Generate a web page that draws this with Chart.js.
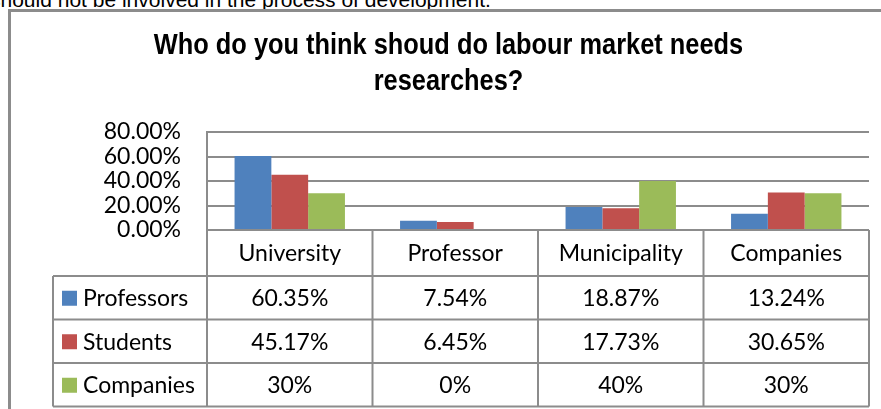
<!DOCTYPE html>
<html>
<head>
<meta charset="utf-8">
<script src="https://cdn.jsdelivr.net/npm/chart.js@4.4.1/dist/chart.umd.min.js"></script>
<style>
  body { margin: 0; background: #fff; overflow: hidden; }
  #wrap { position: relative; width: 881px; height: 409px; overflow: hidden; }
  #topline { position: absolute; left: -10px; top: -11px; font: 21px "Liberation Sans", Arial, sans-serif; line-height: 21px; color: #000; white-space: nowrap; }
  #frame { position: absolute; left: 8px; top: 9px; width: 1000px; height: 600px; border: 3px solid #8c8c8c; }
  #chart { position: absolute; left: 0; top: 0; }
</style>
</head>
<body>
<div id="wrap">
  <div id="topline">should not be involved in the process of development.</div>
  <div id="frame"></div>
  <canvas id="chart" width="881" height="409"></canvas>
</div>
<script>
const categories = ["University", "Professor", "Municipality", "Companies"];
const seriesNames = ["Professors", "Students", "Companies"];
const professors = [60.35, 7.54, 18.87, 13.24];
const students = [45.17, 6.45, 17.73, 30.65];
const companies = [30, 0, 40, 30];
const yTicks = [0, 20, 40, 60, 80];
const titleLines = ["Who do you think shoud do labour market needs", "researches?"];

const colors = ["#4F81BD", "#C0504D", "#9BBB59"];
const lineColor = "#8c8c8c";
const textFont = 'Lato, "Noto Sans", sans-serif';

const seriesValues = [professors, students, companies];

// narrow bold title (Arial Narrow look), squeezed horizontally
const narrowTitle = {
  id: 'narrowTitle',
  afterDraw(chart) {
    const ctx = chart.ctx;
    const cx = 448.5;
    const squeeze = 0.875;
    ctx.save();
    ctx.font = 'bold 29px "Liberation Sans", Arial, sans-serif';
    ctx.fillStyle = "#000";
    ctx.textAlign = 'center';
    ctx.textBaseline = 'alphabetic';
    ctx.translate(cx, 0);
    ctx.scale(squeeze, 1);
    titleLines.forEach((t, i) => ctx.fillText(t, 0, 54 + i * 36));
    ctx.restore();
  }
};

// data table under the plot, columns follow the x scale
const dataTable = {
  id: 'dataTable',
  afterDraw(chart) {
    const ctx = chart.ctx;
    const x = chart.scales.x;
    const area = chart.chartArea;
    const cw = (x.right - x.left) / categories.length;
    const legendLeft = 53;
    const headerH = 46;
    const rowH = 43.5;
    const top = area.bottom;
    const headerBottom = top + headerH;
    const bottom = headerBottom + rowH * seriesNames.length;

    ctx.save();
    ctx.strokeStyle = lineColor;
    ctx.lineWidth = 2;
    ctx.beginPath();
    ctx.moveTo(area.left, top); ctx.lineTo(area.right, top);
    ctx.moveTo(legendLeft, headerBottom); ctx.lineTo(area.right, headerBottom);
    for (let r = 1; r <= seriesNames.length; r++) {
      const y = headerBottom + rowH * r;
      ctx.moveTo(legendLeft, y); ctx.lineTo(area.right, y);
    }
    ctx.moveTo(legendLeft, headerBottom); ctx.lineTo(legendLeft, bottom);
    for (let i = 0; i <= categories.length; i++) {
      const ex = x.left + cw * i;
      ctx.moveTo(ex, top); ctx.lineTo(ex, bottom);
    }
    ctx.stroke();

    ctx.fillStyle = "#000";
    ctx.font = '23px ' + textFont;
    ctx.textBaseline = 'middle';
    ctx.textAlign = 'center';
    categories.forEach((c, i) => {
      ctx.fillText(c, x.getPixelForValue(i), top + headerH / 2 + 1);
    });
    seriesNames.forEach((name, r) => {
      const cy = headerBottom + rowH * r + rowH / 2 + 1;
      ctx.fillStyle = colors[r];
      ctx.fillRect(62, cy - 8, 15, 15);
      ctx.fillStyle = "#000";
      ctx.textAlign = 'left';
      ctx.fillText(name, 83, cy);
      ctx.textAlign = 'center';
      seriesValues[r].forEach((v, i) => {
        ctx.fillText(v + '%', x.getPixelForValue(i), cy);
      });
    });
    ctx.restore();
  }
};

new Chart(document.getElementById('chart'), {
  type: 'bar',
  data: {
    labels: categories,
    datasets: seriesNames.map((name, i) => ({
      label: name,
      data: seriesValues[i],
      backgroundColor: colors[i],
      borderWidth: 0,
      categoryPercentage: 0.667,
      barPercentage: 1
    }))
  },
  options: {
    responsive: false,
    animation: false,
    layout: { padding: { left: 28, right: 12, top: 132, bottom: 179 } },
    plugins: {
      legend: { display: false },
      tooltip: { enabled: false },
      title: { display: false }
    },
    scales: {
      x: { display: false },
      y: {
        min: 0,
        max: 80,
        afterBuildTicks: s => { s.ticks = yTicks.map(v => ({ value: v })); },
        afterFit: s => { s.width = 179; },
        grid: { color: lineColor, lineWidth: 2, drawTicks: false },
        border: { display: true, color: lineColor, width: 2 },
        ticks: {
          autoSkip: false,
          padding: 26,
          color: "#000",
          font: { family: textFont, size: 23 },
          callback: v => v.toFixed(2) + '%'
        }
      }
    }
  },
  plugins: [dataTable, narrowTitle]
});
</script>
</body>
</html>
